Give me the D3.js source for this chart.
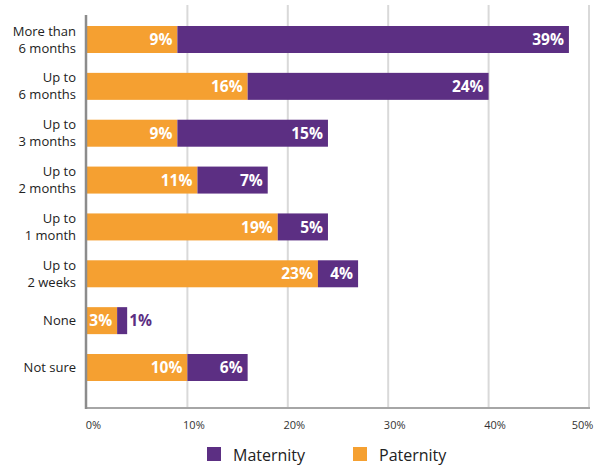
<!DOCTYPE html>
<html>
<head>
<meta charset="utf-8">
<script src="https://cdn.jsdelivr.net/npm/d3@7/dist/d3.min.js"></script>
<style>
  html, body { margin: 0; padding: 0; background: #fff; }
  svg { display: block; font-family: "Open Sans", "Noto Sans", sans-serif; }
</style>
</head>
<body>
<svg id="chart" width="598" height="466"></svg>
<script>
// Length of parental leave taken, share of respondents
const categories = [
  ["More than", "6 months"],
  ["Up to", "6 months"],
  ["Up to", "3 months"],
  ["Up to", "2 months"],
  ["Up to", "1 month"],
  ["Up to", "2 weeks"],
  ["None"],
  ["Not sure"]
];
const paternity = [9, 16, 9, 11, 19, 23, 3, 10];
const maternity = [39, 24, 15, 7, 5, 4, 1, 6];
const xTicks = [0, 10, 20, 30, 40, 50];
const seriesNames = ["Maternity", "Paternity"];
const colors = { Maternity: "#5C2F83", Paternity: "#F5A031" };

const svg = d3.select("#chart");
const keys = categories.map(c => c.join(" "));

const x = d3.scaleLinear().domain([0, 50]).range([87, 589]);
const y = d3.scaleBand().domain(keys).range([26, 381]).paddingInner(0.424).paddingOuter(0);

const plotTop = 5, plotBottom = 408;

// vertical gridlines
svg.append("g")
  .selectAll("line")
  .data(xTicks.slice(1))
  .join("line")
  .attr("x1", d => x(d)).attr("x2", d => x(d))
  .attr("y1", plotTop).attr("y2", plotBottom)
  .attr("stroke", "#d9d9d9").attr("stroke-width", 2);

// x axis labels
const xAxis = d3.axisBottom(x).tickValues(xTicks).tickFormat(d => d + "%").tickSize(0).tickPadding(0);
const gx = svg.append("g").attr("transform", `translate(0,${plotBottom})`).call(xAxis);
gx.select(".domain").remove();
gx.selectAll("text")
  .attr("font-family", "'Open Sans', sans-serif")
  .attr("font-size", 11)
  .attr("fill", "#333")
  .attr("y", 13)
  .attr("dx", d => d === 50 ? -7 : 6);

// stacked segments: paternity first, then maternity
const rows = keys.map((k, i) => ({ key: k, Paternity: paternity[i], Maternity: maternity[i] }));
const stack = d3.stack().keys(["Paternity", "Maternity"]);
const layers = stack(rows);

svg.append("g")
  .selectAll("g")
  .data(layers)
  .join("g")
  .attr("fill", d => colors[d.key])
  .selectAll("rect")
  .data(d => d)
  .join("rect")
  .attr("x", d => x(d[0]))
  .attr("y", d => y(d.data.key))
  .attr("width", d => x(d[1]) - x(d[0]))
  .attr("height", y.bandwidth());

// value labels
const labels = svg.append("g")
  .attr("font-family", "'Open Sans', sans-serif")
  .attr("font-weight", 700)
  .attr("font-size", 15.5);
layers.forEach(layer => {
  labels.selectAll(null)
    .data(layer)
    .join("text")
    .each(function (d) {
      const v = d.data[layer.key];
      const w = x(d[1]) - x(d[0]);
      const sel = d3.select(this)
        .attr("y", y(d.data.key) + y.bandwidth() / 2)
        .attr("dy", "0.36em")
        .text(v + "%");
      if (w >= 30) {
        sel.attr("x", x(d[1]) - 5).attr("text-anchor", "end").attr("fill", "#fff");
      } else if (layer.key === "Paternity") {
        sel.attr("x", x(d[1]) - 2).attr("text-anchor", "end").attr("fill", "#fff");
      } else {
        sel.attr("x", x(d[1]) + 2).attr("text-anchor", "start").attr("fill", colors.Maternity);
      }
    });
});

// axis lines
svg.append("line")
  .attr("x1", x(0) - 1).attr("x2", x(50) + 1)
  .attr("y1", plotBottom).attr("y2", plotBottom)
  .attr("stroke", "#a6a6a6").attr("stroke-width", 2);
svg.append("line")
  .attr("x1", x(0) - 1).attr("x2", x(0) - 1)
  .attr("y1", plotTop + 10).attr("y2", plotBottom + 1)
  .attr("stroke", "#8c8c8c").attr("stroke-width", 2.5);

// category labels, one text per line
const cat = svg.append("g")
  .attr("font-family", "'Open Sans', sans-serif")
  .attr("font-size", 13)
  .attr("fill", "#222")
  .attr("text-anchor", "end");
const lineGap = 17;
categories.forEach((lines, i) => {
  const cy = y(keys[i]) + y.bandwidth() / 2;
  lines.forEach((ln, j) => {
    cat.append("text")
      .attr("x", 76)
      .attr("y", cy + (j - (lines.length - 1) / 2) * lineGap)
      .attr("dy", "0.35em")
      .text(ln);
  });
});

// legend
const legendX = [207, 353];
const legend = svg.append("g")
  .attr("font-family", "'Open Sans', sans-serif")
  .attr("font-size", 16)
  .attr("fill", "#222");
seriesNames.forEach((name, i) => {
  legend.append("rect")
    .attr("x", legendX[i]).attr("y", 447)
    .attr("width", 14).attr("height", 14)
    .attr("fill", colors[name]);
  legend.append("text")
    .attr("x", legendX[i] + 26).attr("y", 455)
    .attr("dy", "0.35em")
    .text(name);
});
</script>
</body>
</html>
